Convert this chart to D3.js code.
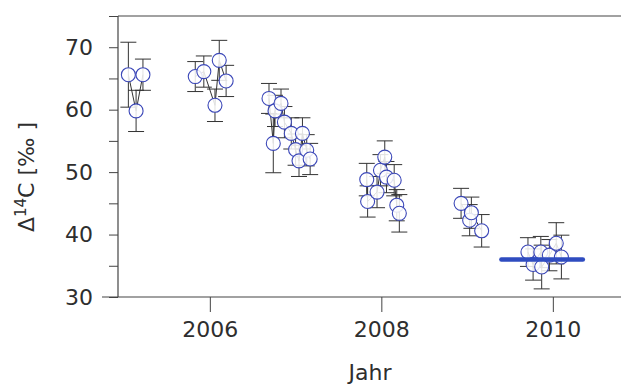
<!DOCTYPE html>
<html>
<head>
<meta charset="utf-8">
<script src="https://cdn.jsdelivr.net/npm/d3@7"></script>
<style>
    body { margin: 0; background: #fff; }
    svg { display: block; }
    text { font-family: "DejaVu Sans", Verdana, sans-serif; fill: #2e2e2e; }
</style>
</head>
<body>
<svg id="chart" width="621" height="385"></svg>
<script>
// Sampling dates (decimal year), Δ14C values [‰], 1-sigma errors and sample campaign
var sampleYears = [
    2005.05, 2005.14, 2005.22,
    2005.83, 2005.93, 2006.06, 2006.11, 2006.19,
    2006.69, 2006.74, 2006.76, 2006.83, 2006.87, 2006.95, 2007.00, 2007.04, 2007.08, 2007.13, 2007.17,
    2007.83, 2007.84, 2007.95, 2007.99, 2008.04, 2008.06, 2008.15, 2008.18, 2008.21,
    2008.93, 2009.03, 2009.05, 2009.17,
    2009.71, 2009.77, 2009.86, 2009.87, 2009.96, 2010.04, 2010.10
];
var sampleValues = [
    65.6, 59.8, 65.6,
    65.3, 66.1, 60.7, 67.9, 64.6,
    61.8, 54.6, 59.8, 61.0, 58.0, 56.2, 53.6, 51.8, 56.2, 53.5, 52.1,
    48.8, 45.3, 46.8, 50.3, 52.4, 49.2, 48.7, 44.7, 43.4,
    45.0, 42.3, 43.5, 40.6,
    37.2, 35.2, 37.2, 34.8, 36.7, 38.6, 36.4
];
var sampleErrors = [
    5.2, 3.3, 2.5,
    2.4, 2.5, 2.6, 3.2, 2.5,
    2.4, 4.7, 2.5, 2.3, 2.5, 2.5, 2.5, 2.5, 2.5, 2.5, 2.5,
    2.6, 2.5, 2.5, 2.5, 2.6, 2.5, 2.5, 2.5, 3.0,
    2.4, 2.5, 2.5, 2.6,
    2.3, 2.5, 2.5, 3.5, 2.5, 3.3, 3.5
];
var sampleGroup = [
    0, 0, 0,
    1, 1, 1, 1, 1,
    2, 2, 2, 2, 2, 2, 2, 2, 2, 2, 2,
    3, 3, 3, 3, 3, 3, 3, 3, 3,
    4, 4, 4, 4,
    5, 5, 5, 5, 5, 5, 5
];

// 2010 mean value (blue bar)
var meanYears = [2009.40, 2010.35];
var meanValue = 36;

// Axis ticks
var xTickYears = [2006, 2008, 2010];
var yTickValues = [30, 40, 50, 60, 70];
var yMinorValues = [35, 45, 55, 65, 75];

document.addEventListener("DOMContentLoaded", function () {
    var svg = d3.select("#chart");

    // Plot frame
    var left = 118, top = 16, right = 623, bottom = 297;

    var xScale = d3.scaleLinear()
        .domain([2008 + (left - 381.33) / 85.75, 2008 + (right - 381.33) / 85.75])
        .range([left, right]);

    var yScale = d3.scaleLinear()
        .domain([30, 75])
        .range([bottom, top]);

    var data = sampleYears.map(function (d, i) {
        return { year: d, value: sampleValues[i], err: sampleErrors[i], group: sampleGroup[i] };
    });

    // Frame lines (top, left, bottom)
    svg.append("line")
        .attr("x1", left).attr("x2", right)
        .attr("y1", top).attr("y2", top)
        .attr("stroke", "#444").attr("stroke-width", 1.2);
    svg.append("line")
        .attr("x1", left).attr("x2", left)
        .attr("y1", top).attr("y2", bottom)
        .attr("stroke", "#444").attr("stroke-width", 1.2);
    svg.append("line")
        .attr("x1", left - 16).attr("x2", right)
        .attr("y1", bottom).attr("y2", bottom)
        .attr("stroke", "#444").attr("stroke-width", 1.2);

    // Y axis
    var yAxis = d3.axisLeft(yScale)
        .tickValues(yTickValues)
        .tickSize(9)
        .tickPadding(16)
        .tickFormat(d3.format("d"));
    var gy = svg.append("g")
        .attr("transform", "translate(" + left + ",0)")
        .call(yAxis);
    gy.select(".domain").remove();
    gy.selectAll(".tick line").attr("stroke", "#444");
    gy.selectAll("text")
        .attr("font-size", "22px")
        .attr("fill", "#2e2e2e")
        .attr("font-family", "DejaVu Sans, Verdana, sans-serif");

    var yMinor = d3.axisLeft(yScale)
        .tickValues(yMinorValues)
        .tickSize(9)
        .tickFormat("");
    var gym = svg.append("g")
        .attr("transform", "translate(" + left + ",0)")
        .call(yMinor);
    gym.select(".domain").remove();
    gym.selectAll(".tick line").attr("stroke", "#444");

    // X axis
    var xAxis = d3.axisBottom(xScale)
        .tickValues(xTickYears)
        .tickSize(15)
        .tickPadding(9)
        .tickFormat(d3.format("d"));
    var gx = svg.append("g")
        .attr("transform", "translate(0," + bottom + ")")
        .call(xAxis);
    gx.select(".domain").remove();
    gx.selectAll(".tick line").attr("stroke", "#444");
    gx.selectAll("text")
        .attr("font-size", "22px")
        .attr("fill", "#2e2e2e")
        .attr("font-family", "DejaVu Sans, Verdana, sans-serif");

    // Axis titles
    svg.append("text")
        .attr("x", 370)
        .attr("y", 380)
        .attr("text-anchor", "middle")
        .attr("font-size", "22px")
        .text("Jahr");

    var ylab = svg.append("text")
        .attr("transform", "translate(34,177) rotate(-90)")
        .attr("text-anchor", "middle")
        .attr("font-size", "22px");
    ylab.append("tspan").text("Δ");
    ylab.append("tspan").attr("dy", -8).attr("font-size", "15px").text("14");
    ylab.append("tspan").attr("dy", 8).text("C [‰ ]");

    // Connecting lines within each sampling campaign
    var line = d3.line()
        .x(function (d) { return xScale(d.year); })
        .y(function (d) { return yScale(d.value); });

    var groups = d3.groups(data, function (d) { return d.group; });
    svg.selectAll("path.conn")
        .data(groups)
        .enter()
        .append("path")
        .attr("class", "conn")
        .attr("d", function (g) { return line(g[1]); })
        .attr("fill", "none")
        .attr("stroke", "#333")
        .attr("stroke-width", 1);

    // Error bars
    var bars = svg.selectAll("g.err")
        .data(data)
        .enter()
        .append("g")
        .attr("class", "err")
        .attr("stroke", "#333")
        .attr("stroke-width", 1);

    bars.append("line")
        .attr("x1", function (d) { return xScale(d.year); })
        .attr("x2", function (d) { return xScale(d.year); })
        .attr("y1", function (d) { return yScale(d.value + d.err); })
        .attr("y2", function (d) { return yScale(d.value - d.err); });
    bars.append("line")
        .attr("x1", function (d) { return xScale(d.year) - 8; })
        .attr("x2", function (d) { return xScale(d.year) + 8; })
        .attr("y1", function (d) { return yScale(d.value + d.err); })
        .attr("y2", function (d) { return yScale(d.value + d.err); });
    bars.append("line")
        .attr("x1", function (d) { return xScale(d.year) - 8; })
        .attr("x2", function (d) { return xScale(d.year) + 8; })
        .attr("y1", function (d) { return yScale(d.value - d.err); })
        .attr("y2", function (d) { return yScale(d.value - d.err); });

    // Data points
    svg.selectAll("circle")
        .data(data)
        .enter()
        .append("circle")
        .attr("cx", function (d) { return xScale(d.year); })
        .attr("cy", function (d) { return yScale(d.value); })
        .attr("r", 7)
        .attr("fill", "#fff")
        .attr("fill-opacity", 0.85)
        .attr("stroke", "#3b47b8")
        .attr("stroke-width", 1.1);

    // Mean of the 2010 samples
    svg.append("line")
        .attr("x1", xScale(meanYears[0]))
        .attr("x2", xScale(meanYears[1]))
        .attr("y1", yScale(meanValue))
        .attr("y2", yScale(meanValue))
        .attr("stroke", "#2f4cc0")
        .attr("stroke-width", 4.5)
        .attr("stroke-linecap", "round");
});
</script>
</body>
</html>
